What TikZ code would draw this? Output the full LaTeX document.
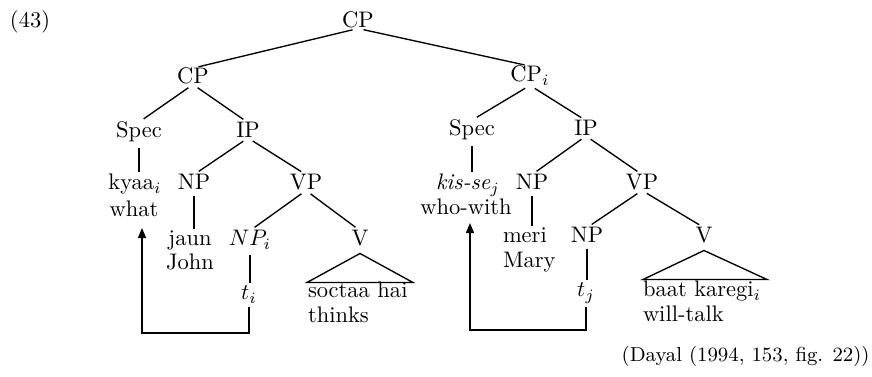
\documentclass[tikz,border=0pt]{standalone}
\usetikzlibrary{arrows.meta}
\begin{document}
\begin{tikzpicture}[x=0.4444pt,y=-0.4444pt,
  lbl/.style={inner sep=0pt,outer sep=0pt,anchor=base},
  lblw/.style={inner sep=0pt,outer sep=0pt,anchor=base west},
  branch/.style={line width=0.6pt,shorten <=2.5pt,shorten >=2.5pt},
  vline/.style={line width=0.6pt,shorten <=2.5pt,shorten >=1.2pt},
  mv/.style={line width=0.6pt,-{Triangle[length=4.5pt,width=3.6pt]}},
  tri/.style={line width=0.6pt,line join=miter}]
\useasboundingbox (0,0) rectangle (872,377);
% labels
\node[lblw] (ex) at (10,28) {(43)};
\node[lbl] (cp) at (358,28) {CP};
\node[lbl] (cpl) at (193,84) {CP};
\node[lbl] (cpr) at (530,82) {CP$_i$};
\node[lbl] (specl) at (139,138) {Spec};
\node[lbl] (ipl) at (248,138) {IP};
\node[lbl] (specr) at (472,136) {Spec};
\node[lbl] (ipr) at (586,136) {IP};
% left lower
\node[lbl] (kyaa) at (135,190) {kyaa$_i$};
\node[lbl] (what) at (134,217) {what};
\node[lbl] (npl) at (194,190) {NP};
\node[lbl] (vpl) at (306,190) {VP};
\node[lbl] (jaun) at (190,246) {jaun};
\node[lbl] (john) at (190,270) {John};
\node[lbl] (npi) at (250,246) {$NP_i$};
\node[lbl] (vl) at (360,246) {V};
\node[lbl] (ti) at (249,300) {$t_i$};
\node[lblw] (soctaa) at (308,298) {soctaa hai};
\node[lblw] (thinks) at (308,323) {thinks};
% right lower
\node[lbl] (kisse) at (468,190) {\textit{kis-se}$_j$};
\node[lbl] (whowith) at (466,215) {who-with};
\node[lbl] (npr) at (532,190) {NP};
\node[lbl] (vpr) at (642,190) {VP};
\node[lblw] (meri) at (503,243) {meri};
\node[lblw] (mary) at (503,268) {Mary};
\node[lbl] (nprr) at (587,243) {NP};
\node[lbl] (vr) at (704,243) {V};
\node[lbl] (tj) at (586,297) {$t_j$};
\node[lblw] (baat) at (643,297) {baat karegi$_i$};
\node[lblw] (willtalk) at (643,322) {will-talk};
\node[inner sep=0pt,anchor=base east] (dayal) at (870,362) {\small (Dayal (1994, 153, fig. 22))};
% branches
\draw[branch] (cp.south) -- (cpl.north);
\draw[branch] (cp.south) -- (cpr.north);
\draw[branch] (cpl.south) -- (specl.north);
\draw[branch] (cpl.south) -- (ipl.north);
\draw[branch] (cpr.south) -- (specr.north);
\draw[branch] (cpr.south) -- (ipr.north);
\draw[branch] (ipl.south) -- (npl.north);
\draw[branch] (ipl.south) -- (vpl.north);
\draw[branch] (ipr.south) -- (npr.north);
\draw[branch] (ipr.south) -- (vpr.north);
\draw[branch] (vpl.south) -- (npi.north);
\draw[branch] (vpl.south) -- (vl.north);
\draw[branch] (vpr.south) -- (nprr.north);
\draw[branch] (vpr.south) -- (vr.north);
% vertical lines
\draw[vline] (specl.south) -- (specl.south |- kyaa.north);
\draw[vline] (specr.south) -- (specr.south |- kisse.north);
\draw[vline] (npl.south) -- (npl.south |- jaun.north);
\draw[vline] (npr.south) -- (npr.south |- meri.north);
\draw[vline] (npi.south) -- (npi.south |- ti.north);
\draw[vline] (nprr.south) -- (nprr.south |- tj.north);
% triangles
\draw[tri] (vl.south) ++(0,7) -- ++(-53,29) -- ++(106,0) -- cycle;
\draw[tri] (vr.south) ++(0,7) -- ++(-61,29) -- ++(124,0) -- cycle;
% movement arrows
\coordinate (bendl) at (142,333);
\coordinate (tipl) at (142,228);
\coordinate (bendr) at (470,330);
\coordinate (tipr) at (470,223);
\draw[mv] ([yshift=-1.5pt]ti.south) |- (bendl) -- (tipl);
\draw[mv] ([yshift=-1.5pt]tj.south) |- (bendr) -- (tipr);
\end{tikzpicture}
\end{document}
